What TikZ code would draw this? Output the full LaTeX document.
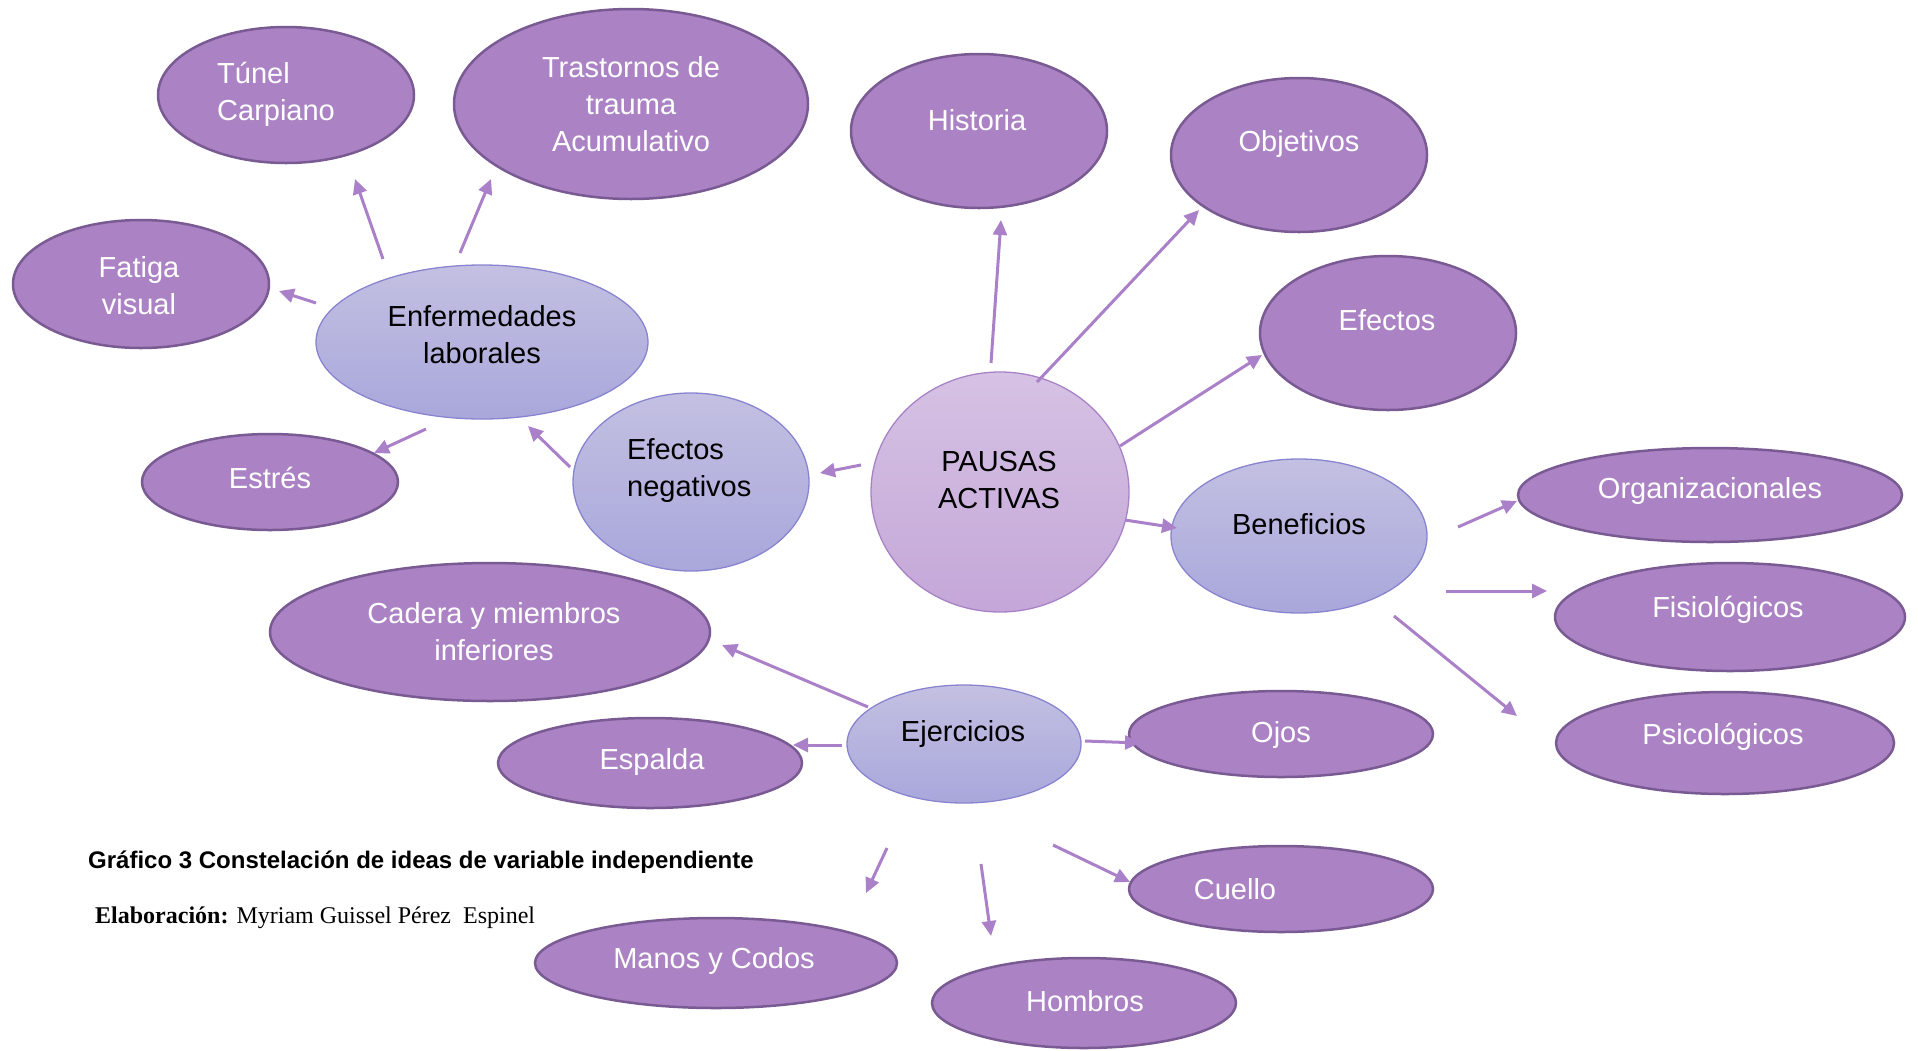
\documentclass[tikz,border=0pt]{standalone}
\usepackage{fontspec}
\setmainfont{Liberation Sans}
\newfontfamily\timesfont{Liberation Serif}
\usetikzlibrary{shapes.geometric,arrows.meta}
\definecolor{darkfill}{HTML}{AB83C5}
\definecolor{darkborder}{HTML}{7A5A92}
\definecolor{lighttop}{HTML}{C3C0E2}
\definecolor{lightbot}{HTML}{A9A7DB}
\definecolor{lightborder}{HTML}{8884D0}
\definecolor{ctop}{HTML}{D6C2E4}
\definecolor{cbot}{HTML}{C4A7D8}
\definecolor{cborder}{HTML}{A882C6}
\definecolor{arrowc}{HTML}{AA80C8}
\tikzset{
  darkell/.style={ellipse, fill=darkfill, draw=darkborder, line width=2.5pt, inner sep=0pt},
  lightell/.style={ellipse, top color=lighttop, bottom color=lightbot, draw=lightborder, line width=1.3pt, inner sep=0pt},
  centell/.style={ellipse, top color=ctop, bottom color=cbot, draw=cborder, line width=1.3pt, inner sep=0pt},
  wtxt/.style={align=center, font=\fontsize{29}{37}\selectfont, text=white, inner sep=0pt, yshift=-0.5pt},
  btxt/.style={align=center, font=\fontsize{29}{37}\selectfont, text=black, inner sep=0pt, yshift=-0.5pt},
  arr/.style={draw=arrowc, line width=3pt, -{Triangle[length=15pt,width=14pt]}},
}
\begin{document}
\begin{tikzpicture}[x=1pt,y=-1pt]
\useasboundingbox (0,0) rectangle (1918,1050);
% dark ellipses
\node[darkell, minimum width=256pt, minimum height=136pt] (tunel) at (286,95) {};
\node[wtxt, align=left, anchor=west] (tuneltxt) at (217,94) {Túnel\\Carpiano};
\node[darkell, minimum width=354pt, minimum height=190pt] (trast) at (631,104) {};
\node[wtxt] (trasttxt) at (631,104) {Trastornos de\\trauma\\Acumulativo};
\node[darkell, minimum width=256pt, minimum height=154pt] (hist) at (979,131) {};
\node[wtxt] (histtxt) at (977,120) {Historia};
\node[darkell, minimum width=256pt, minimum height=154pt] (obj) at (1299,155) {};
\node[wtxt] (objtxt) at (1299,143) {Objetivos};
\node[darkell, minimum width=256pt, minimum height=154pt] (efec) at (1388,333) {};
\node[wtxt] (efectxt) at (1387,320) {Efectos};
\node[darkell, minimum width=256pt, minimum height=128pt] (fat) at (141,284) {};
\node[wtxt] (fattxt) at (139,285) {Fatiga\\visual};
\node[darkell, minimum width=256pt, minimum height=96pt] (estr) at (270,482) {};
\node[wtxt] (estrtxt) at (270,477) {Estrés};
\node[darkell, minimum width=384pt, minimum height=94pt] (org) at (1710,495) {};
\node[wtxt] (orgtxt) at (1710,490) {Organizacionales};
\node[darkell, minimum width=350pt, minimum height=108pt] (fis) at (1730,617) {};
\node[wtxt] (fistxt) at (1728,609) {Fisiológicos};
\node[darkell, minimum width=338pt, minimum height=102pt] (psi) at (1725,743) {};
\node[wtxt] (psitxt) at (1723,736) {Psicológicos};
\node[darkell, minimum width=440pt, minimum height=138pt] (cad) at (490,632) {};
\node[wtxt] (cadtxt) at (494,631) {Cadera y miembros\\inferiores};
\node[darkell, minimum width=304pt, minimum height=90pt] (esp) at (650,763) {};
\node[wtxt] (esptxt) at (652,761) {Espalda};
\node[darkell, minimum width=304pt, minimum height=86pt] (ojos) at (1281,734) {};
\node[wtxt] (ojostxt) at (1281,734) {Ojos};
\node[darkell, minimum width=304pt, minimum height=86pt] (cue) at (1281,889) {};
\node[wtxt] (cuetxt) at (1235,889) {Cuello};
\node[darkell, minimum width=362pt, minimum height=90pt] (man) at (716,963) {};
\node[wtxt] (mantxt) at (714,960) {Manos y Codos};
\node[darkell, minimum width=304pt, minimum height=90pt] (hom) at (1084,1003) {};
\node[wtxt] (homtxt) at (1085,1001) {Hombros};
% light ellipses
\node[lightell, minimum width=332pt, minimum height=154pt] (enf) at (482,342) {};
\node[btxt] (enftxt) at (482,334) {Enfermedades\\laborales};
\node[lightell, minimum width=236pt, minimum height=178pt] (neg) at (691,482) {};
\node[btxt, align=left, anchor=west] (negtxt) at (627,470) {Efectos\\negativos};
\node[lightell, minimum width=256pt, minimum height=154pt] (ben) at (1299,536) {};
\node[btxt] (bentxt) at (1299,524) {Beneficios};
\node[lightell, minimum width=234pt, minimum height=118pt] (ejer) at (964,744) {};
\node[btxt] (ejertxt) at (963,733) {Ejercicios};
\node[centell, minimum width=258pt, minimum height=240pt] (pa) at (1000,492) {};
\node[btxt] (patxt) at (999,480) {PAUSAS\\ACTIVAS};
% arrow end coordinates
\coordinate (a1s) at (991,363);  \coordinate (a1e) at (1001,220);
\coordinate (a2s) at (1037,382); \coordinate (a2e) at (1199,210);
\coordinate (a3s) at (1120,446); \coordinate (a3e) at (1262,355);
\coordinate (a4s) at (1125,520); \coordinate (a4e) at (1177,528);
\coordinate (a5s) at (861,465);  \coordinate (a5e) at (820,473);
\coordinate (a6s) at (570,467);  \coordinate (a6e) at (528,426);
\coordinate (a7s) at (426,429);  \coordinate (a7e) at (374,453);
\coordinate (a8s) at (316,303);  \coordinate (a8e) at (279,291);
\coordinate (a9s) at (383,259);  \coordinate (a9e) at (355,179);
\coordinate (a10s) at (460,253); \coordinate (a10e) at (491,179);
\coordinate (a11s) at (1458,527); \coordinate (a11e) at (1517,501);
\coordinate (a12s) at (1446,591); \coordinate (a12e) at (1547,591);
\coordinate (a13s) at (1394,616); \coordinate (a13e) at (1517,716);
\coordinate (a14s) at (868,707); \coordinate (a14e) at (722,645);
\coordinate (a15s) at (842,745); \coordinate (a15e) at (793,745);
\coordinate (a16s) at (1085,741); \coordinate (a16e) at (1140,743);
\coordinate (a17s) at (887,848); \coordinate (a17e) at (866,893);
\coordinate (a18s) at (981,864); \coordinate (a18e) at (991,936);
\coordinate (a19s) at (1053,845); \coordinate (a19e) at (1130,882);
\foreach \i in {1,...,19} { \draw[arr] (a\i s) -- (a\i e); }
% captions
\node[anchor=west, inner sep=0pt, font=\fontsize{24}{28}\selectfont\bfseries] (cap) at (88,862) {Gráfico 3 Constelación de ideas de variable independiente};
\node[anchor=west, inner sep=0pt, font=\timesfont\fontsize{24}{28}\selectfont] (elab) at (95,918) {\textbf{Elaboración:} Myriam Guissel Pérez~ Espinel};
\end{tikzpicture}
\end{document}
